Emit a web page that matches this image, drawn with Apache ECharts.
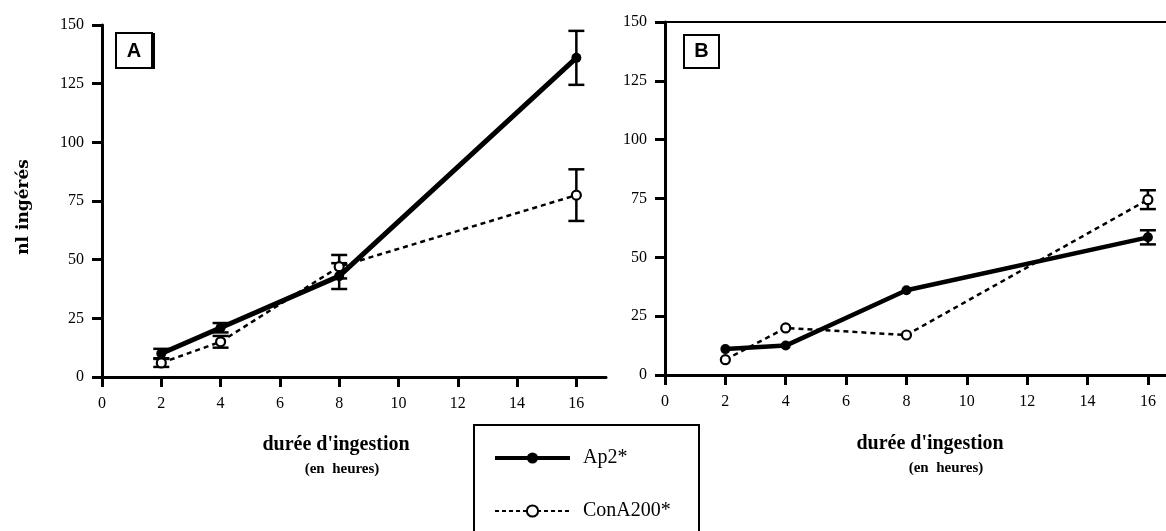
<!DOCTYPE html>
<html>
<head>
<meta charset="utf-8">
<script src="https://cdn.jsdelivr.net/npm/echarts@6/dist/echarts.min.js"></script>
<style>html,body{margin:0;padding:0;background:#fff;}#c{width:1166px;height:531px;}</style>
</head>
<body>
<div id="c"></div>
<script>
// ---- data ----
var hours = [2, 4, 8, 16];
var ap2A = [10, 21, 43, 136];
var ap2AErr = [2, 2, 5.5, 11.5];
var conA = [6, 15, 47, 77.5];
var conAErr = [1.7, 2.5, 5, 11];
var ap2B = [11, 12.5, 36, 58.5];
var ap2BErr = [0, 0, 0, 3];
var conB = [6.5, 20, 17, 74.5];
var conBErr = [0, 0, 0, 4];
var xTicks = [0, 2, 4, 6, 8, 10, 12, 14, 16];
var yTicks = [0, 25, 50, 75, 100, 125, 150];

var serif = 'Liberation Serif';
function pairs(xs, ys) { return xs.map(function (x, i) { return [x, ys[i]]; }); }
function errData(xs, ys, es) { return xs.map(function (x, i) { return [x, ys[i] - es[i], ys[i] + es[i]]; }); }

function errSeries(xi, yi, data) {
  return {
    type: 'custom', xAxisIndex: xi, yAxisIndex: yi, data: data, z: 3, silent: true,
    renderItem: function (params, api) {
      var x = api.value(0);
      if (api.value(1) === api.value(2)) return null;
      var lo = api.coord([x, api.value(1)]);
      var hi = api.coord([x, api.value(2)]);
      var w = 8;
      var st = { stroke: '#000', lineWidth: 2.5 };
      return {
        type: 'group', children: [
          { type: 'line', shape: { x1: lo[0], y1: lo[1], x2: hi[0], y2: hi[1] }, style: st },
          { type: 'line', shape: { x1: lo[0] - w, y1: lo[1], x2: lo[0] + w, y2: lo[1] }, style: st },
          { type: 'line', shape: { x1: hi[0] - w, y1: hi[1], x2: hi[0] + w, y2: hi[1] }, style: st }
        ]
      };
    }
  };
}

function xAxisDef(gi, max) {
  return {
    type: 'value', gridIndex: gi, min: 0, max: max, interval: 2, position: 'bottom',
    splitLine: { show: false },
    axisLine: { show: true, lineStyle: { color: '#000', width: 3 } },
    axisTick: { show: true, length: 10, inside: false, customValues: xTicks, lineStyle: { color: '#000', width: 3 } },
    axisLabel: { customValues: xTicks, margin: 19, color: '#000', fontFamily: serif, fontSize: 16 }
  };
}
function xTopDef(gi, max) {
  return {
    type: 'value', gridIndex: gi, min: 0, max: max, position: 'top',
    splitLine: { show: false },
    axisLine: { show: true, lineStyle: { color: '#000', width: 2 } },
    axisTick: { show: false }, axisLabel: { show: false }
  };
}
function yAxisDef(gi) {
  return {
    type: 'value', gridIndex: gi, min: 0, max: 150, interval: 25, position: 'left',
    splitLine: { show: false },
    axisLine: { show: true, lineStyle: { color: '#000', width: 3 } },
    axisTick: { show: true, length: 10, customValues: yTicks, lineStyle: { color: '#000', width: 3 } },
    axisLabel: { customValues: yTicks, margin: 18, color: '#000', fontFamily: serif, fontSize: 16 }
  };
}

var ap2Style = { color: '#000', width: 5 };
var conStyle = { color: '#000', width: 2.5, type: [5, 4] };
var conItem = { color: '#fff', borderColor: '#000', borderWidth: 2.2 };

var option = {
  animation: false,
  backgroundColor: '#fff',
  grid: [
    { left: 102, top: 25, width: 504, height: 352 },
    { left: 665, top: 22, width: 501, height: 353 }
  ],
  xAxis: [xAxisDef(0, 17), xTopDef(0, 17), xAxisDef(1, 16.6), xTopDef(1, 16.6)],
  yAxis: [
    yAxisDef(0),
    { type: 'value', gridIndex: 0, min: 0, max: 150, position: 'right', splitLine: { show: false },
      axisLine: { show: true, lineStyle: { color: '#000', width: 2 } }, axisTick: { show: false }, axisLabel: { show: false } },
    yAxisDef(1)
  ],
  legend: {
    orient: 'vertical', left: 488, top: 443, height: 85, itemWidth: 75, itemHeight: 14, itemGap: 33,
    data: [
      { name: 'Ap2*', lineStyle: { width: 4, color: '#000' }, itemStyle: { color: '#000' } },
      { name: 'ConA200*', lineStyle: { width: 2, color: '#000', type: [4, 3] }, itemStyle: { color: '#fff', borderColor: '#000', borderWidth: 2 } }
    ],
    textStyle: { color: '#000', fontFamily: serif, fontSize: 20, padding: [0, 0, 0, 8] }
  },
  series: [
    errSeries(0, 0, errData(hours, ap2A, ap2AErr)),
    errSeries(0, 0, errData(hours, conA, conAErr)),
    errSeries(2, 2, errData(hours, ap2B, ap2BErr)),
    errSeries(2, 2, errData(hours, conB, conBErr)),
    { name: 'Ap2*', type: 'line', xAxisIndex: 0, yAxisIndex: 0, data: pairs(hours, ap2A), z: 4,
      symbol: 'circle', symbolSize: 10, itemStyle: { color: '#000' }, lineStyle: ap2Style },
    { name: 'ConA200*', type: 'line', xAxisIndex: 0, yAxisIndex: 0, data: pairs(hours, conA), z: 5,
      symbol: 'circle', symbolSize: 9, itemStyle: conItem, lineStyle: conStyle },
    { name: 'Ap2*', type: 'line', xAxisIndex: 2, yAxisIndex: 2, data: pairs(hours, ap2B), z: 4,
      symbol: 'circle', symbolSize: 10, itemStyle: { color: '#000' }, lineStyle: { color: '#000', width: 4.5 } },
    { name: 'ConA200*', type: 'line', xAxisIndex: 2, yAxisIndex: 2, data: pairs(hours, conB), z: 5,
      symbol: 'circle', symbolSize: 9, itemStyle: conItem, lineStyle: conStyle }
  ],
  graphic: [
    // panel labels
    { type: 'rect', shape: { x: 116, y: 33, width: 36, height: 35 }, style: { fill: '#fff', stroke: '#000', lineWidth: 2 }, z: 10 },
    { type: 'line', shape: { x1: 154, y1: 33, x2: 154, y2: 69 }, style: { stroke: '#000', lineWidth: 2 }, z: 10 },
    { type: 'text', x: 134, y: 51, style: { text: 'A', fontFamily: 'Liberation Sans', fontWeight: 'bold', fontSize: 20, fill: '#000', align: 'center', verticalAlign: 'middle' }, z: 11 },
    { type: 'rect', shape: { x: 684, y: 35, width: 35, height: 33 }, style: { fill: '#fff', stroke: '#000', lineWidth: 2 }, z: 10 },
    { type: 'text', x: 701.5, y: 51.5, style: { text: 'B', fontFamily: 'Liberation Sans', fontWeight: 'bold', fontSize: 20, fill: '#000', align: 'center', verticalAlign: 'middle' }, z: 11 },
    // y title
    { type: 'text', x: 24, y: 207, rotation: Math.PI / 2, style: { text: 'nl ingérés', fontFamily: 'DejaVu Serif', fontWeight: 'bold', fontSize: 17, fill: '#000', align: 'center', verticalAlign: 'middle' } },
    // x titles
    { type: 'text', x: 336, y: 445, style: { text: "durée d'ingestion", fontFamily: serif, fontWeight: 'bold', fontSize: 20, fill: '#000', align: 'center', verticalAlign: 'middle' } },
    { type: 'text', x: 342, y: 469, style: { text: '(en  heures)', fontFamily: serif, fontWeight: 'bold', fontSize: 15, fill: '#000', align: 'center', verticalAlign: 'middle' } },
    { type: 'text', x: 930, y: 444, style: { text: "durée d'ingestion", fontFamily: serif, fontWeight: 'bold', fontSize: 20, fill: '#000', align: 'center', verticalAlign: 'middle' } },
    { type: 'text', x: 946, y: 468, style: { text: '(en  heures)', fontFamily: serif, fontWeight: 'bold', fontSize: 15, fill: '#000', align: 'center', verticalAlign: 'middle' } },
    // legend box
    { type: 'rect', shape: { x: 474, y: 425, width: 225, height: 130 }, style: { fill: 'none', stroke: '#000', lineWidth: 2 } }
  ]
};
var chart = echarts.init(document.getElementById('c'), null, { renderer: 'canvas' });
chart.setOption(option);
</script>
</body>
</html>
